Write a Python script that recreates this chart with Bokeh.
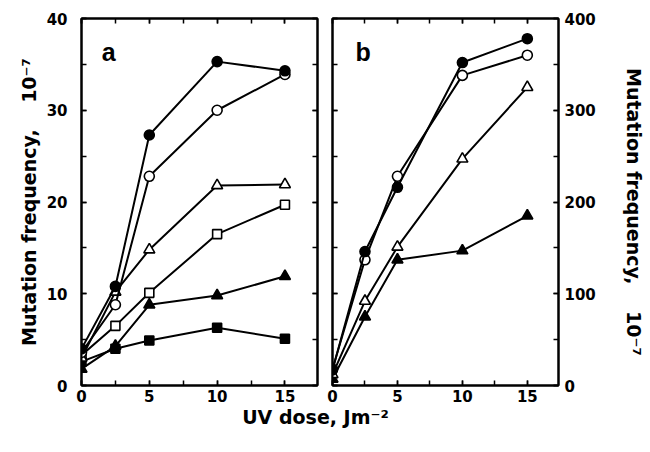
from bokeh.plotting import figure
from bokeh.models import Range1d, LinearAxis, SingleIntervalTicker, Label
from bokeh.layouts import row, column
from bokeh.embed import file_html
from bokeh.resources import INLINE

# ---------------- data ----------------
dose = [0, 2.5, 5, 10, 15]

# panel a (left axis, x 10^-7)
a_filled_circle = [4.0, 10.8, 27.3, 35.3, 34.3]
a_open_circle = [3.6, 8.8, 22.8, 30.0, 33.9]
a_open_triangle = [3.0, 10.2, 14.8, 21.8, 21.9]
a_open_square = [3.3, 6.5, 10.1, 16.5, 19.7]
a_filled_triangle = [1.8, 4.3, 8.8, 9.8, 11.9]
a_filled_square = [2.6, 4.0, 4.9, 6.3, 5.1]

# panel b (right axis, x 10^-7)
b_filled_circle = [17, 146, 216, 352, 378]
b_open_circle = [18, 137, 228, 338, 360]
b_open_triangle = [12, 92, 151, 247, 325]
b_filled_triangle = [7, 75, 137, 147, 185]

a_y_ticks = [0, 10, 20, 30, 40]
b_y_ticks = [0, 100, 200, 300, 400]
x_ticks = [0, 5, 10, 15]

TICK_FONT = "DejaVu Sans"
LABEL = "Mutation frequency,\u00a0\u00a0\u00a0\u00a010\u207b\u2077"


def style_axis(ax, show_labels):
    ax.axis_line_width = 2
    ax.axis_line_color = "black"
    ax.major_tick_in = 5
    ax.major_tick_out = 0
    ax.minor_tick_in = 5
    ax.minor_tick_out = 0
    ax.major_tick_line_width = 1.5
    ax.minor_tick_line_width = 1.5
    ax.major_tick_line_color = "black"
    ax.minor_tick_line_color = "black"
    if show_labels:
        ax.major_label_text_font = TICK_FONT
        ax.major_label_text_font_style = "bold"
        ax.major_label_text_font_size = "15px"
        ax.major_label_text_color = "black"
    else:
        ax.major_label_text_color = None
        ax.major_label_text_font_size = "1px"
        ax.major_label_standoff = 0


def style_title(ax, standoff):
    ax.axis_label_text_font = TICK_FONT
    ax.axis_label_text_font_style = "bold"
    ax.axis_label_text_font_size = "19px"
    ax.axis_label_text_color = "black"
    ax.axis_label_standoff = standoff


def x_ticker():
    return SingleIntervalTicker(interval=5, num_minor_ticks=2)


def y_ticker(step):
    return SingleIntervalTicker(interval=step, num_minor_ticks=2)


def draw(p, y, filled, marker, size):
    p.line(dose, y, line_color="black", line_width=2)
    p.scatter(dose, y, marker=marker, size=size,
              fill_color="black" if filled else "white",
              line_color="black", line_width=1.6)


# ---------------- panel a ----------------
pa = figure(width=324, height=406, x_range=Range1d(0, 17.4), y_range=Range1d(0, 40),
            output_backend="svg", toolbar_location=None,
            min_border_left=81, min_border_right=7, min_border_top=18, min_border_bottom=21)
pa.grid.visible = False
pa.outline_line_color = "black"
pa.outline_line_width = 2
pa.xaxis.ticker = x_ticker()
pa.yaxis.ticker = y_ticker(10)
for ax in pa.xaxis:
    style_axis(ax, True)
    ax.major_label_standoff = 4
for ax in pa.yaxis:
    style_axis(ax, True)
    ax.major_label_standoff = 14
    ax.axis_label = LABEL
    style_title(ax, 4)
ra = LinearAxis(ticker=y_ticker(10))
style_axis(ra, False)
pa.add_layout(ra, "right")
ta = LinearAxis(ticker=x_ticker())
style_axis(ta, False)
pa.add_layout(ta, "above")

draw(pa, a_filled_square, True, "square", 9)
draw(pa, a_filled_triangle, True, "triangle", 11)
draw(pa, a_open_square, False, "square", 9)
draw(pa, a_open_triangle, False, "triangle", 11)
draw(pa, a_open_circle, False, "circle", 10)
draw(pa, a_filled_circle, True, "circle", 10)

pa.add_layout(Label(x=1.5, y=36.3, text="a", text_font="Liberation Sans",
                    text_font_style="bold", text_font_size="25px", text_color="black",
                    text_baseline="alphabetic", text_align="left"))

# ---------------- panel b ----------------
pb = figure(width=323, height=406, x_range=Range1d(0, 17.4), y_range=Range1d(0, 400),
            output_backend="svg", toolbar_location=None, y_axis_location="right",
            min_border_left=8, min_border_right=79, min_border_top=18, min_border_bottom=21)
pb.grid.visible = False
pb.outline_line_color = "black"
pb.outline_line_width = 2
pb.xaxis.ticker = x_ticker()
pb.yaxis.ticker = y_ticker(100)
for ax in pb.xaxis:
    style_axis(ax, True)
    ax.major_label_standoff = 4
for ax in pb.yaxis:
    style_axis(ax, True)
    ax.major_label_standoff = 6
    ax.axis_label = "\u00a0\u00a0\u00a0" + LABEL
    style_title(ax, 24)
lb = LinearAxis(ticker=y_ticker(100))
style_axis(lb, False)
pb.add_layout(lb, "left")
tb = LinearAxis(ticker=x_ticker())
style_axis(tb, False)
pb.add_layout(tb, "above")

draw(pb, b_filled_triangle, True, "triangle", 11)
draw(pb, b_open_triangle, False, "triangle", 11)
draw(pb, b_open_circle, False, "circle", 10)
draw(pb, b_filled_circle, True, "circle", 10)

pb.add_layout(Label(x=1.77, y=363, text="b", text_font="Liberation Sans",
                    text_font_style="bold", text_font_size="25px", text_color="black",
                    text_baseline="alphabetic", text_align="left"))

# ---------------- shared x title ----------------
pc = figure(width=647, height=44, x_range=Range1d(0, 1), y_range=Range1d(0, 1),
            output_backend="svg", toolbar_location=None, min_border=0,
            x_axis_location=None, y_axis_location=None, outline_line_color=None)
pc.grid.visible = False
pc.add_layout(Label(x=315 / 647, y=1 - 10 / 44, text="UV dose, Jm\u207b\u00b2", text_font=TICK_FONT,
                    text_font_style="bold", text_font_size="19px", text_color="black",
                    text_align="center", text_baseline="middle"))

layout = column(row(pa, pb), pc)
open("out.html", "w").write(file_html(layout, INLINE))
